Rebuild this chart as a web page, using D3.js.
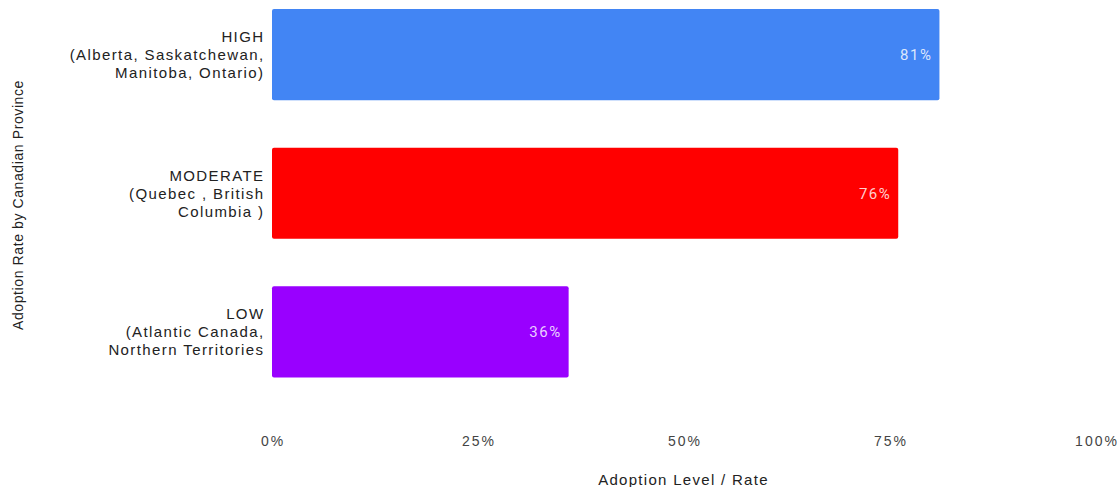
<!DOCTYPE html>
<html>
<head>
<meta charset="utf-8">
<script src="https://cdn.jsdelivr.net/npm/d3@7"></script>
<style>
  body { margin: 0; background: #fff; }
  text { font-family: "Liberation Sans", Arial, sans-serif; }
</style>
</head>
<body>
<div id="plot"></div>
<script>
// data
var categories = ["HIGH", "MODERATE", "LOW"];
var catLines = [
     ["HIGH", "(Alberta, Saskatchewan,", "Manitoba, Ontario)"],
     ["MODERATE", "(Quebec , British", "Columbia )"],
     ["LOW", "(Atlantic Canada,", "Northern Territories"]
];
var values = [81, 76, 36];
var barColors = ["#4285F4", "#FF0000", "#9900FF"];
var xTicks = [0, 25, 50, 75, 100];

var width = 1118, height = 487;

var svg = d3.select("#plot")
     .append("svg")
     .attr("width", width)
     .attr("height", height);

var x = d3.scaleLinear().domain([0, 100]).range([272, 1096]);
var y = d3.scaleBand()
     .domain(categories)
     .range([-14.5, 401])
     .paddingInner(0.343)
     .paddingOuter(0.17);

// bars
svg.selectAll(".bar")
     .data(values)
     .enter()
     .append("rect")
     .attr("class", "bar")
     .attr("x", x(0))
     .attr("y", function(d, i) { return y(categories[i]); })
     .attr("width", function(d) { return x(d) - x(0); })
     .attr("height", y.bandwidth())
     .attr("rx", 2)
     .attr("fill", function(d, i) { return barColors[i]; });

// value labels inside bar end
svg.selectAll(".val")
     .data(values)
     .enter()
     .append("text")
     .attr("class", "val")
     .attr("x", function(d) { return x(d) - 7; })
     .attr("y", function(d, i) { return y(categories[i]) + y.bandwidth() / 2; })
     .attr("dy", "0.35em")
     .attr("text-anchor", "end")
     .attr("fill", "rgba(255,255,255,0.82)")
     .style("font-family", "Roboto, sans-serif")
     .style("font-size", "15px")
     .style("letter-spacing", "1.5px")
     .text(function(d) { return d + "%"; });

// category labels
var cat = svg.selectAll(".cat")
     .data(categories)
     .enter()
     .append("text")
     .attr("class", "cat")
     .attr("text-anchor", "end")
     .attr("fill", "#222")
     .style("font-size", "15px")
     .style("letter-spacing", "1.4px")
     .attr("transform", function(d) {
          return "translate(264.5," + (y(d) + y.bandwidth() / 2) + ")";
     });

cat.selectAll("tspan")
     .data(function(d, i) { return catLines[i]; })
     .enter()
     .append("tspan")
     .attr("x", 0)
     .attr("y", function(d, j) { return (j - 1) * 18; })
     .attr("dy", "0.35em")
     .text(function(d) { return d; });

// x axis tick labels
var xAxis = svg.append("g")
     .attr("transform", "translate(0,441)")
     .call(d3.axisBottom(x).tickValues(xTicks).tickSize(0).tickFormat(function(d) { return d + "%"; }));
xAxis.select(".domain").remove();
xAxis.selectAll("text")
     .attr("y", 0)
     .attr("dy", "0.35em")
     .attr("dx", "0.5px")
     .attr("fill", "#444")
     .style("font-family", "\"Liberation Sans\", Arial, sans-serif")
     .style("font-size", "14px")
     .style("letter-spacing", "2px");

// axis titles
svg.append("text")
     .attr("text-anchor", "middle")
     .attr("x", 683.5)
     .attr("y", 480)
     .attr("dy", "0.35em")
     .attr("fill", "#222")
     .style("font-size", "15px")
     .style("letter-spacing", "1.3px")
     .text("Adoption Level / Rate");

svg.append("text")
     .attr("text-anchor", "middle")
     .attr("transform", "translate(18,205) rotate(-90)")
     .attr("dy", "0.35em")
     .attr("fill", "#222")
     .style("font-size", "14px")
     .style("letter-spacing", "0.6px")
     .text("Adoption Rate by Canadian Province");
</script>
</body>
</html>
